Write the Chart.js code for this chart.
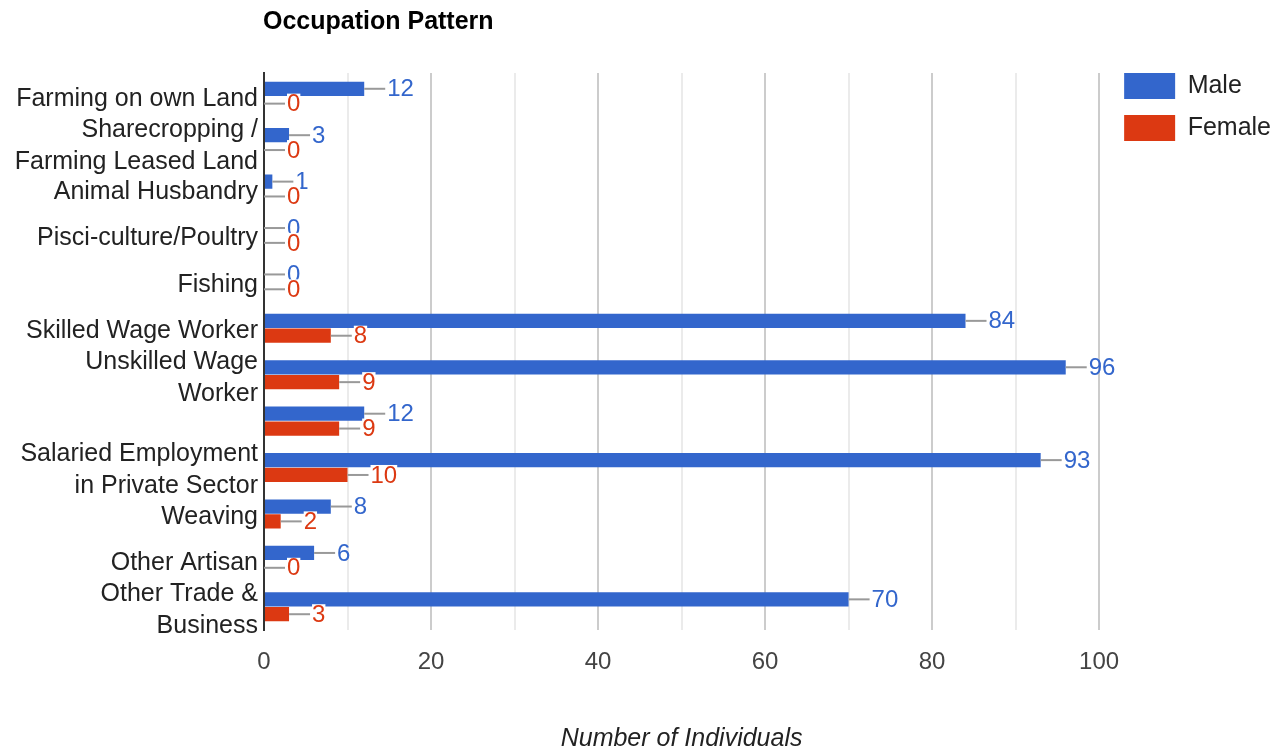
<!DOCTYPE html>
<html>
<head>
<meta charset="utf-8">
<title>Occupation Pattern</title>
<script src="https://cdn.jsdelivr.net/npm/chart.js@4.4.1/dist/chart.umd.min.js"></script>
<style>
  html, body { margin: 0; padding: 0; background: #fff; }
</style>
</head>
<body>
<canvas id="chart" width="1272" height="751"></canvas>
<script>
// data
const categories = [
    "Farming on own Land",
    ["Sharecropping /", "Farming Leased Land"],
    "Animal Husbandry",
    "Pisci-culture/Poultry",
    "Fishing",
    "Skilled Wage Worker",
    ["Unskilled Wage", "Worker"],
    "",
    ["Salaried Employment", "in Private Sector"],
    "Weaving",
    "Other Artisan",
    ["Other Trade &", "Business"]
];
const maleValues   = [12, 3, 1, 0, 0, 84, 96, 12, 93, 8, 6, 70];
const femaleValues = [0, 0, 0, 0, 0, 8, 9, 9, 10, 2, 0, 3];
const seriesNames  = ["Male", "Female"];
const xTickLabels  = [0, 20, 40, 60, 80, 100];

const chartTitle = "Occupation Pattern";
const axisTitle  = "Number of Individuals";
const colors     = ["#3366cc", "#dc3912"];
const FONT       = '"Liberation Sans", Arial, sans-serif';

// bold title aligned with the plot's left edge
let titlePlugin = {
    id: "titlePlugin",
    afterDraw: (chart) => {
        let ctx = chart.ctx;
        ctx.save();
        ctx.font = `bold 25px ${FONT}`;
        ctx.fillStyle = "#000";
        ctx.textAlign = "left";
        ctx.textBaseline = "middle";
        ctx.fillText(chartTitle, chart.chartArea.left - 1, 22);
        ctx.restore();
    }
};

// leader line + value next to each bar end
let valueLabels = {
    id: "valueLabels",
    afterDatasetsDraw: (chart) => {
        let ctx = chart.ctx;
        ctx.save();
        ctx.font = `24px ${FONT}`;
        ctx.textBaseline = "middle";
        ctx.textAlign = "left";
        chart.data.datasets.forEach((ds, di) => {
            let meta = chart.getDatasetMeta(di);
            meta.data.forEach((bar, i) => {
                let x = bar.x, y = bar.y;
                let txt = String(ds.data[i]);
                ctx.strokeStyle = "#999";
                ctx.lineWidth = 2;
                ctx.beginPath();
                ctx.moveTo(x, y);
                ctx.lineTo(x + 21, y);
                ctx.stroke();
                let tx = x + 23;
                if (di > 0) {
                    let w = ctx.measureText(txt).width;
                    ctx.fillStyle = "#fff";
                    ctx.fillRect(tx, y - 10, w, 22);
                }
                ctx.fillStyle = ds.backgroundColor;
                ctx.fillText(txt, tx, y + 1);
            });
        });
        ctx.restore();
    }
};

// nudge the legend up to the plot top and away from the plot edge
let legendShift = {
    id: "legendShift",
    afterLayout: (chart) => {
        let lg = chart.legend;
        if (!lg) return;
        lg.left += 9;
        lg.right += 9;
        lg.top -= 16;
        lg.bottom -= 16;
    }
};

let chart = new Chart("chart", {
    type: "bar",
    data: {
        labels: categories,
        datasets: [
            {
                label: seriesNames[0],
                data: maleValues,
                backgroundColor: colors[0],
                borderWidth: 0,
                categoryPercentage: 0.64,
                barPercentage: 0.96
            },
            {
                label: seriesNames[1],
                data: femaleValues,
                backgroundColor: colors[1],
                borderWidth: 0,
                categoryPercentage: 0.64,
                barPercentage: 0.96
            }
        ]
    },
    options: {
        indexAxis: "y",
        responsive: false,
        animation: false,
        devicePixelRatio: 1,
        layout: { padding: { top: 73, right: 0, bottom: 0, left: 0 } },
        plugins: {
            title: { display: false },
            tooltip: { enabled: false },
            legend: {
                position: "right",
                align: "start",
                maxWidth: 175,
                labels: {
                    boxWidth: 51,
                    boxHeight: 26,
                    padding: 16,
                    color: "#222",
                    font: { family: FONT, size: 25 }
                }
            }
        },
        scales: {
            x: {
                min: 0,
                max: 100,
                afterFit: (s) => { s.height = 121; },
                ticks: {
                    stepSize: 10,
                    padding: 18,
                    color: "#444",
                    font: { family: FONT, size: 24 },
                    callback: (v) => xTickLabels.includes(v) ? String(v) : ""
                },
                grid: {
                    drawTicks: false,
                    lineWidth: 2,
                    color: (c) => {
                        let v = c.tick ? c.tick.value : 1;
                        if (v === 0) return "rgba(0,0,0,0)";
                        return v % 20 === 0 ? "#cccccc" : "#ebebeb";
                    }
                },
                border: { display: false },
                title: {
                    display: true,
                    text: axisTitle,
                    color: "#222",
                    padding: { top: 0, bottom: -3 },
                    font: { family: FONT, size: 25, style: "italic" }
                }
            },
            y: {
                afterFit: (s) => { s.width = 264; },
                ticks: {
                    autoSkip: false,
                    padding: 6,
                    labelOffset: 3,
                    color: "#222",
                    font: { family: FONT, size: 25, lineHeight: 1.28 }
                },
                grid: { display: false, drawTicks: false },
                border: { display: true, color: "#333", width: 2 }
            }
        }
    },
    plugins: [titlePlugin, valueLabels, legendShift]
});
</script>
</body>
</html>
